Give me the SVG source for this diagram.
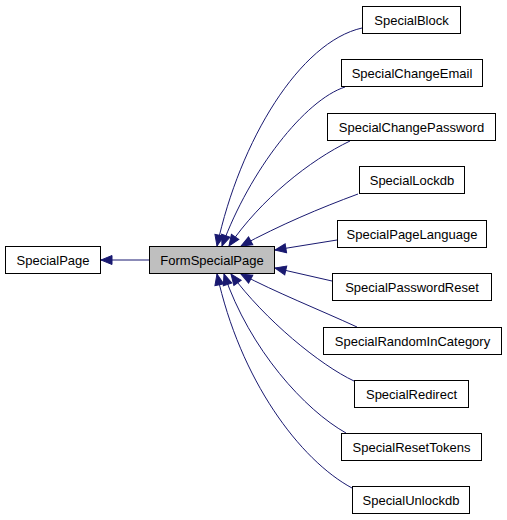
<svg xmlns="http://www.w3.org/2000/svg" width="507" height="520" viewBox="0 0 507 520">
<style>
.box{fill:#ffffff;stroke:#000000;stroke-width:1}
.cur{fill:#bfbfbf;stroke:#000000;stroke-width:1}
.lbl{font-family:"Liberation Sans",Arial,sans-serif;font-size:13px;fill:#000000;text-anchor:middle}
.edge{fill:none;stroke:#191970;stroke-width:1;marker-end:url(#arr)}
</style>
<defs>
<marker id="arr" markerUnits="userSpaceOnUse" markerWidth="14" markerHeight="12" refX="11.5" refY="5" orient="auto" overflow="visible">
<path d="M0.5,0.5 L11.5,5 L0.5,9.5 z" fill="#191970" stroke="#191970" stroke-width="1"/>
</marker>
</defs>
<rect width="507" height="520" fill="#ffffff"/>
<g id="edges">
<path class="edge" d="M149,260 L101,260"/>
<path class="edge" d="M362,28 C300,42 240,140 217,246"/>
<path class="edge" d="M345,87 C305,100 250,170 222,246"/>
<path class="edge" d="M350,141 C310,160 260,200 229,246"/>
<path class="edge" d="M358,194 C320,208 280,225 241,246"/>
<path class="edge" d="M337,240 L275,250"/>
<path class="edge" d="M332,281 L275,268"/>
<path class="edge" d="M357,327 C320,310 275,292 241,274"/>
<path class="edge" d="M354,381 C320,365 265,320 231,274"/>
<path class="edge" d="M346,433 C305,410 250,350 224,274"/>
<path class="edge" d="M352,488 C300,460 240,380 217,274"/>
</g>
<g id="SpecialPage"><rect class="box" x="5.5" y="246.5" width="95" height="27"/><text class="lbl" x="53" y="264.5">SpecialPage</text></g>
<g id="FormSpecialPage"><rect class="cur" x="149.5" y="246.5" width="125" height="27"/><text class="lbl" x="212" y="264.5">FormSpecialPage</text></g>
<g id="SpecialBlock"><rect class="box" x="362.5" y="6.5" width="98" height="27"/><text class="lbl" x="411.5" y="24.5">SpecialBlock</text></g>
<g id="SpecialChangeEmail"><rect class="box" x="341.5" y="59.5" width="141" height="27"/><text class="lbl" x="412" y="77.5">SpecialChangeEmail</text></g>
<g id="SpecialChangePassword"><rect class="box" x="327.5" y="113.5" width="168" height="27"/><text class="lbl" x="411.5" y="131.5">SpecialChangePassword</text></g>
<g id="SpecialLockdb"><rect class="box" x="359.5" y="166.5" width="105" height="27"/><text class="lbl" x="412" y="184.5">SpecialLockdb</text></g>
<g id="SpecialPageLanguage"><rect class="box" x="337.5" y="220.5" width="149" height="27"/><text class="lbl" x="412" y="238.5">SpecialPageLanguage</text></g>
<g id="SpecialPasswordReset"><rect class="box" x="332.5" y="273.5" width="159" height="27"/><text class="lbl" x="412" y="291.5">SpecialPasswordReset</text></g>
<g id="SpecialRandomInCategory"><rect class="box" x="323.5" y="327.5" width="178" height="27"/><text class="lbl" x="412.5" y="345.5">SpecialRandomInCategory</text></g>
<g id="SpecialRedirect"><rect class="box" x="354.5" y="380.5" width="114" height="27"/><text class="lbl" x="411.5" y="398.5">SpecialRedirect</text></g>
<g id="SpecialResetTokens"><rect class="box" x="341.5" y="433.5" width="140" height="27"/><text class="lbl" x="411.5" y="451.5">SpecialResetTokens</text></g>
<g id="SpecialUnlockdb"><rect class="box" x="352.5" y="486.5" width="117" height="27"/><text class="lbl" x="411" y="504.5">SpecialUnlockdb</text></g>
</svg>
